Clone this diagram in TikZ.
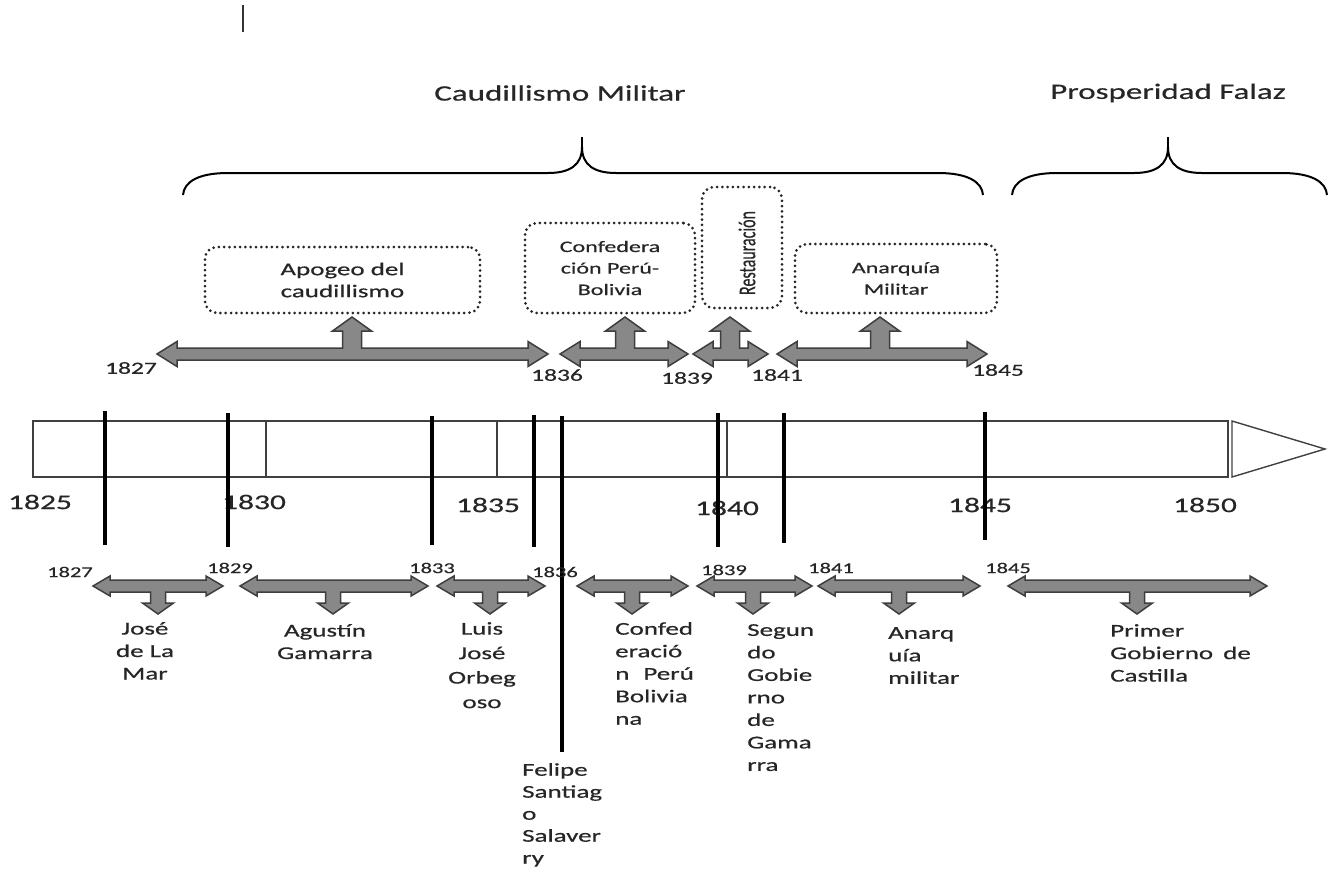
\documentclass[tikz,border=0pt]{standalone}
\usepackage{fontspec}
\setmainfont[FakeStretch=1.5, FakeBold=0.6]{Carlito}
\newfontfamily\rotfont[FakeBold=0.6]{Carlito}
\definecolor{arrgray}{RGB}{136,136,136}
\definecolor{arredge}{RGB}{62,62,62}
\begin{document}
\begin{tikzpicture}[x=1pt, y=-1pt,
  every node/.style={text=black!85},
  heading/.style={font=\fontsize{22}{26}\selectfont},
  bigyear/.style={font=\fontsize{21}{25}\selectfont},
  topyear/.style={font=\fontsize{17}{20}\selectfont},
  lowyear/.style={font=\fontsize{15}{18}\selectfont},
  person/.style={font=\fontsize{18}{22.5}\selectfont, inner sep=0pt, align=left, anchor=north west},
  ctrperson/.style={person, align=center, anchor=north},
  phase/.style={draw=black!85, line width=3pt, dash pattern=on 0pt off 5.3pt,
    line cap=round, rounded corners=12pt, align=center},
  brace/.style={line width=2pt, black},
  timebar/.style={draw=black!75, line width=1.4pt},
  event/.style={line width=3.2pt, black},
  blockarr/.style={fill=arrgray, draw=arredge, line width=1.5pt}]
\useasboundingbox (0,0) rectangle (1331,868);
\clip (0,0) rectangle (1331,868);
\draw[line width=2pt, black!80] (243,5) -- (243,32);
% periods
\node[heading] (caudillo) at (560,93) {Caudillismo Militar};
\node[heading] (prosper) at (1168,93) {Prosperidad Falaz};
\foreach \l/\m/\r in {183/582/983, 1012/1168/1327}
  {\draw[brace] (\l,195) .. controls (\l+1,182) and (\l+15,173) .. (\l+45,173)
     -- (\m-34,173) .. controls (\m-12,173) and (\m,165) .. (\m,147)
     .. controls (\m,165) and (\m+12,173) .. (\m+34,173)
     -- (\r-45,173) .. controls (\r-15,173) and (\r-1,182) .. (\r,195);
   \draw[brace] (\m,147) -- (\m,137);
  };
% stages
\node[phase, font=\fontsize{18}{22}\selectfont, minimum width=275pt, minimum height=66pt]
  (apogeo) at (342.5,280) {Apogeo del\\caudillismo};
\node[phase, font=\fontsize{16}{21.5}\selectfont, minimum width=170pt, minimum height=90pt]
  (confed) at (610,268) {Confedera\\ción Perú-\\Bolivia};
\node[phase, minimum width=80pt, minimum height=121pt] (resto) at (742,247.5) {};
\node[xscale=1.5, rotate=90, font=\rotfont\fontsize{16}{18}\selectfont] (restotxt) at (747,253) {Restauración};
\node[phase, font=\fontsize{16}{21.5}\selectfont, minimum width=202pt, minimum height=69pt]
  (anarquia) at (896,278.5) {Anarquía\\Militar};
\foreach \a/\b/\s in {157/548/352, 560/688/625, 693/768/730, 777/987/880}
  \draw[blockarr] (\a,354) -- (\a+20,341.5) -- (\a+20,348) -- (\s-9.5,348) -- (\s-9.5,331)
    -- (\s-19.5,331) -- (\s,317) -- (\s+19.5,331) -- (\s+9.5,331) -- (\s+9.5,348)
    -- (\b-20,348) -- (\b-20,341.5) -- (\b,354) -- (\b-20,366.5) -- (\b-20,360)
    -- (\a+20,360) -- (\a+20,366.5) -- cycle;
\foreach \x/\y/\t in {131/368/1827, 557/375/1836, 687/378/1839, 777/375/1841, 998/370/1845}
  \node[topyear] (top\t) at (\x,\y) {\t};
% time line
\draw[timebar] (33,421) rectangle (1228,477);
\foreach \x in {266,497,727}
  \draw[timebar] (\x,421) -- (\x,477);
\draw[timebar] (1232,421) -- (1325,449) -- (1232,477) -- cycle;
\foreach \x/\y/\t in {40/502/1825, 254/502/1830, 488/505/1835, 727/508/1840, 980/505/1845, 1205/505/1850}
  \node[bigyear] (year\t) at (\x,\y) {\t};
\foreach \x/\a/\b in {105/411/545, 228/413/547, 432/416/545, 534/415/547, 562/416/752,
                      718/413/547, 784/413/543, 985/412/540}
  \draw[event] (\x,\a) -- (\x,\b);
% governments
\foreach \a/\b/\s in {93/223/158, 240/428/333, 437/545/490, 577/688/632, 697/812/753,
                      818/980/899, 1008/1267/1137}
  \draw[blockarr] (\a,586) -- (\a+17,576) -- (\a+17,580) -- (\b-17,580) -- (\b-17,576)
    -- (\b,586) -- (\b-17,596) -- (\b-17,592) -- (\s+7.5,592) -- (\s+7.5,603)
    -- (\s+15.5,603) -- (\s,614) -- (\s-15.5,603) -- (\s-7.5,603) -- (\s-7.5,592)
    -- (\a+17,592) -- (\a+17,596) -- cycle;
\foreach \x/\y/\t in {70/572/1827, 230/568/1829, 432/568/1833, 555/572/1836,
                      724/570/1839, 831/568/1841, 1008/568/1845}
  \node[lowyear] (low\t) at (\x,\y) {\t};
\node[ctrperson] (lamar) at (145,622) {José\\de La\\Mar};
\node[ctrperson] (gamarra) at (325,624) {Agustín\\Gamarra};
\node[ctrperson, font=\fontsize{18}{24.5}\selectfont] (orbegoso) at (482,622) {Luis\\José\\Orbeg\\oso};
\node[person, font=\fontsize{18}{22}\selectfont] (salaverry) at (522,763) {Felipe\\Santiag\\o\\Salaver\\ry};
\node[person] (confedbol) at (615,622) {Confed\\eració\\n\hspace{14pt}Perú\\Bolivia\\na};
\node[person] (gamarra2) at (747,624) {Segun\\do\\Gobie\\rno\\de\\Gama\\rra};
\node[person] (anarq) at (888,627) {Anarq\\uía\\militar};
\node[person] (castilla) at (1110,624) {Primer\\Gobierno\hspace{4pt} de\\Castilla};
\end{tikzpicture}
\end{document}
